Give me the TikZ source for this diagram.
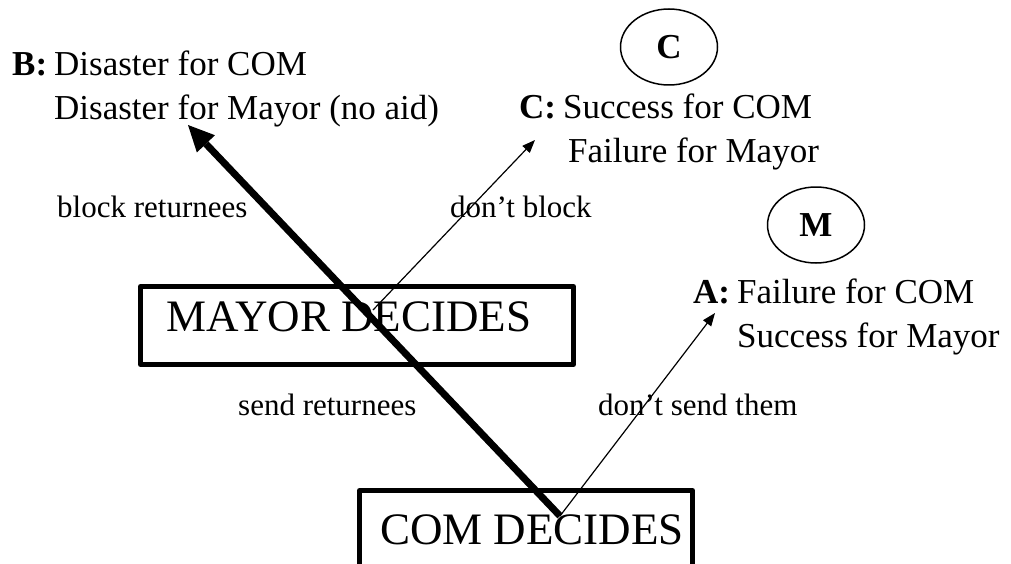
\documentclass[tikz,border=0pt]{standalone}
\usepackage{fontspec}
\setmainfont{Liberation Serif}
\usetikzlibrary{arrows.meta,shapes.geometric}

\begin{document}
\begin{tikzpicture}[x=1pt, y=-1pt, line join=round, >={Triangle[length=13pt,width=10pt]}]
	\def\res#1#2#3{\begin{tabular}[t]{@{}l@{\hspace{7pt}}l@{}}\textbf{#1:}&#2\\&#3\end{tabular}}
	\tikzset{s/.style={draw=black,line width=5pt,rectangle,inner sep=0pt,font=\fontsize{45}{54}\selectfont},
		el/.style={draw=black,line width=1.5pt,ellipse,minimum width=97,minimum height=76,inner sep=0pt,font=\fontsize{35}{42}\selectfont\bfseries},
		res/.style={anchor=base west,inner sep=0pt,font=\fontsize{35}{44}\selectfont},
		lab/.style={anchor=base west,inner sep=0pt,font=\fontsize{31}{37}\selectfont}}
	\useasboundingbox (0,0) rectangle (1011,564);
	
	\node[s,minimum width=433,minimum height=78,text depth=18pt](mayor) at (357,325.5){MAYOR DECIDES\kern16pt};
	\node[s,minimum width=333,minimum height=78](com) at (526,529.5){\kern12pt COM DECIDES};
	
	\node[el](ec) at (669,47){C};
	\node[el](em) at (816,225){M};
	
	\node[res](B) at (12,76){\res{B}{Disaster for COM}{Disaster for Mayor (no aid)}};
	\node[res](C) at (519,119){\res{C}{Success for COM}{\hspace{5pt}Failure for Mayor}};
	\node[res](A) at (693,303){\res{A}{Failure for COM}{Success for Mayor}};
	
	\node[lab](blk) at (57,217){block returnees};
	\node[lab](nblk) at (450,217){don't block};
	\node[lab](snd) at (238,415){send returnees};
	\node[lab](nsnd) at (598,415){don't send them};
	
	% ends of the moves
	\coordinate (m0) at (373,310);
	\coordinate (c0) at (560,516);
	\coordinate (tB) at (188,125);
	\coordinate (tC) at (535,140);
	\coordinate (tA) at (715,313);
	
	\draw[line width=7pt,-{Triangle[length=26pt,width=25pt,line width=0pt]}] (c0)--(tB);
	\foreach \x/\y in {c0/tA,m0/tC}{
		\draw[->,line width=1.2pt] (\x)--(\y);	}
\end{tikzpicture}
\end{document}
